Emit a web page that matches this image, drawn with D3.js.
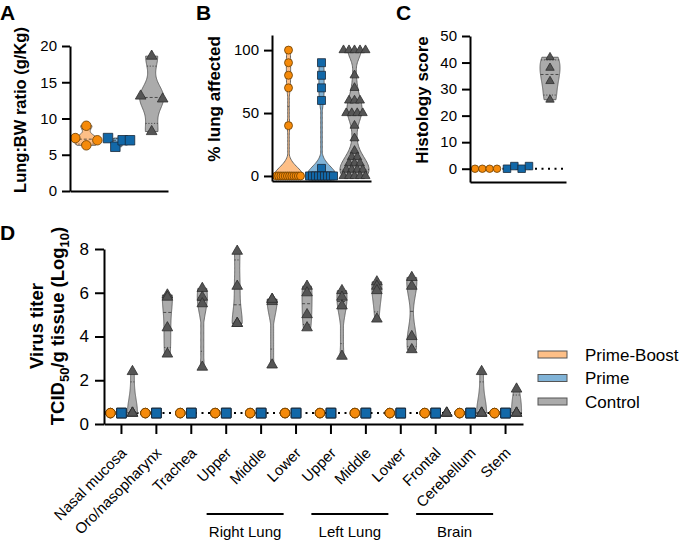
<!DOCTYPE html>
<html><head><meta charset="utf-8">
<script src="https://cdn.jsdelivr.net/npm/d3@7"></script>
<style>body{margin:0;background:#fff}</style>
</head><body><svg id="chart" width="685" height="543"></svg>
<script>
// ---------------- DATA ----------------
const groups = ["Prime-Boost", "Prime", "Control"];

// Panel A: Lung:BW ratio (g/Kg)
const lungBW_primeBoost = [9.0, 7.3, 6.3, 7.0];
const lungBW_prime = [7.3, 6.1, 7.0, 7.0];
const lungBW_control = [18.6, 13.1, 12.7, 8.2];
const ticksA = [0, 5, 10, 15, 20];

// Panel B: % lung affected
const lungAffected_primeBoost = [100, 90, 80, 70, 40, 0, 0, 0, 0, 0, 0, 0, 0, 0, 0, 0, 0];
const lungAffected_prime = [90, 80, 70, 60, 6, 0, 0, 0, 0, 0, 0, 0, 0, 0];
const lungAffected_control = [100, 100, 100, 100, 100, 80, 70, 60, 60, 60, 50, 50, 50, 50, 40, 30, 20,
  15, 15, 10, 10, 10, 5, 5, 5, 5, 0, 0, 0, 0, 0];
const ticksB = [0, 50, 100];

// Panel C: Histology score
const histology_primeBoost = [0, 0, 0, 0];
const histology_prime = [0, 1, 0, 1];
const histology_control = [42, 38, 33, 26];
const ticksC = [0, 10, 20, 30, 40, 50];

// Panel D: Virus titer, TCID50/g tissue (Log10)
const tissues = ["Nasal mucosa", "Oro/nasopharynx", "Trachea", "Upper", "Middle", "Lower",
  "Upper", "Middle", "Lower", "Frontal", "Cerebellum", "Stem"];
const tissueRegions = ["Right Lung", "Left Lung", "Brain"];
const tissueRegionFirst = [3, 6, 9];
const tissueRegionLast = [5, 8, 11];
const titer_primeBoost = [
  [0.5, 0.5, 0.5, 0.5], [0.5, 0.5, 0.5, 0.5], [0.5, 0.5, 0.5, 0.5], [0.5, 0.5, 0.5, 0.5],
  [0.5, 0.5, 0.5, 0.5], [0.5, 0.5, 0.5, 0.5], [0.5, 0.5, 0.5, 0.5], [0.5, 0.5, 0.5, 0.5],
  [0.5, 0.5, 0.5, 0.5], [0.5, 0.5, 0.5, 0.5], [0.5, 0.5, 0.5, 0.5], [0.5, 0.5, 0.5, 0.5]];
const titer_prime = [
  [0.5, 0.5, 0.5, 0.5], [0.5, 0.5, 0.5, 0.5], [0.5, 0.5, 0.5, 0.5], [0.5, 0.5, 0.5, 0.5],
  [0.5, 0.5, 0.5, 0.5], [0.5, 0.5, 0.5, 0.5], [0.5, 0.5, 0.5, 0.5], [0.5, 0.5, 0.5, 0.5],
  [0.5, 0.5, 0.5, 0.5], [0.5, 0.5, 0.5, 0.5], [0.5, 0.5, 0.5, 0.5], [0.5, 0.5, 0.5, 0.5]];
const titer_control = [
  [2.4, 0.5, 0.5, 0.5],
  [5.9, 5.8, 4.4, 3.2],
  [6.2, 5.8, 5.5, 2.6],
  [7.9, 6.3, 4.6, 4.6],
  [5.7, 5.6, 5.7, 2.7],
  [6.3, 6.0, 5.0, 4.4],
  [6.1, 5.8, 5.4, 3.1],
  [6.5, 6.3, 6.1, 4.8],
  [6.7, 6.3, 4.0, 3.4],
  [0.5, 0.5, 0.5, 0.5],
  [2.4, 0.5, 0.5, 0.5],
  [1.6, 0.5, 0.5, 0.5]];
const detectionLimit = 0.5;
const ticksD = [0, 2, 4, 6, 8];

// ---------------- STYLE ----------------
const FONT = '"Liberation Sans", Arial, Helvetica, sans-serif';
const violinFill = {"Prime-Boost": "#FDBF87", "Prime": "#80B3D7", "Control": "#ABABAB"};
const markerFill = {"Prime-Boost": "#F58A0A", "Prime": "#1268A8", "Control": "#555555"};
const markerStroke = {"Prime-Boost": "#6b3d00", "Prime": "#1a2a3a", "Control": "#2e2e2e"};
const markerType = {"Prime-Boost": d3.symbolCircle, "Prime": d3.symbolSquare, "Control": d3.symbolTriangle};

const svg = d3.select("#chart").attr("font-family", FONT);

function styleAxis(g, fs) {
  g.select(".domain").attr("stroke", "#000").attr("stroke-width", 2);
  g.selectAll(".tick line").attr("stroke", "#000").attr("stroke-width", 2);
  g.selectAll(".tick text").attr("font-size", fs).attr("font-family", FONT).attr("fill", "#000");
}

function markerArea(group, size) {
  if (group === "Prime-Boost") return Math.PI * (size / 2) ** 2;
  if (group === "Prime") return size * size;
  return Math.sqrt(3) / 4 * (size * 1.12) ** 2;
}

// Prism-style quantile ((n+1)p)
function quant(sorted, p) {
  const n = sorted.length;
  let pos = (n + 1) * p;
  if (pos <= 1) return sorted[0];
  if (pos >= n) return sorted[n - 1];
  const i = Math.floor(pos), f = pos - i;
  return sorted[i - 1] + f * (sorted[i] - sorted[i - 1]);
}

function drawViolin(g, values, cx, y, o) {
  const lo = d3.min(values), hi = d3.max(values);
  if (hi - lo < o.minRange) return;
  const N = 90;
  const kde = v => d3.sum(values, x => Math.exp(-0.5 * ((v - x) / o.bw) ** 2));
  const grid = d3.range(N + 1).map(i => lo + (hi - lo) * i / N);
  const dens = grid.map(kde);
  const m = d3.max(dens);
  const wAt = v => Math.max(o.minW, kde(v) / m * o.halfW);
  const pts = grid.map(v => ({v, w: wAt(v)}));
  const area = d3.area().y(d => y(d.v)).x0(d => cx - d.w).x1(d => cx + d.w).curve(d3.curveMonotoneY);
  g.append("path").attr("d", area(pts)).attr("fill", o.fill)
    .attr("stroke", "#5a5a5a").attr("stroke-width", 0.9);
  const sorted = values.slice().sort(d3.ascending);
  [[0.25, "1.2,1.6"], [0.5, "3,2"], [0.75, "1.2,1.6"]].forEach(([p, dash]) => {
    const v = quant(sorted, p);
    const w = wAt(v);
    g.append("line").attr("x1", cx - w).attr("x2", cx + w)
      .attr("y1", y(v)).attr("y2", y(v))
      .attr("stroke", "#333").attr("stroke-width", 0.8).attr("stroke-dasharray", dash);
  });
}

// horizontal spreading of points with similar values
function spreadOffsets(values, y, thr, step, maxHalf) {
  const idx = values.map((v, i) => i).sort((a, b) => y(values[a]) - y(values[b]) || a - b);
  const off = new Array(values.length).fill(0);
  let i = 0;
  while (i < idx.length) {
    const start = y(values[idx[i]]);
    let j = i;
    while (j + 1 < idx.length && y(values[idx[j + 1]]) - start < thr) j++;
    const members = idx.slice(i, j + 1).sort((a, b) => a - b);
    const n = members.length;
    if (n > 1) {
      const h = Math.min(maxHalf, (n - 1) * step / 2);
      members.forEach((m, k) => { off[m] = -h + 2 * h * k / (n - 1); });
    }
    i = j + 1;
  }
  return off;
}

function drawPoints(g, values, cx, y, group, size, offs) {
  const sym = d3.symbol().type(markerType[group]).size(markerArea(group, size));
  g.selectAll(null).data(values).join("path")
    .attr("d", sym)
    .attr("transform", (d, i) => `translate(${cx + (offs ? offs[i] : 0)},${y(d)})`)
    .attr("fill", markerFill[group]).attr("stroke", markerStroke[group]).attr("stroke-width", 0.8);
}

function panelLetter(x, y, t) {
  svg.append("text").attr("x", x).attr("y", y).attr("font-size", 21).attr("font-weight", "bold").text(t);
}
function yTitle(x, y, t, fs) {
  svg.append("text").attr("transform", `translate(${x},${y}) rotate(-90)`)
    .attr("text-anchor", "middle").attr("font-size", fs).attr("font-weight", "bold").text(t);
}

// ---------------- PANEL A ----------------
{
  const x = d3.scaleBand().domain(groups).range([70, 168]);
  const y = d3.scaleLinear().domain([0, 20]).range([191, 46]);
  const data = {"Prime-Boost": lungBW_primeBoost, "Prime": lungBW_prime, "Control": lungBW_control};
  const vopt = {"Prime-Boost": {halfW: 13, bw: 0.55}, "Prime": {halfW: 6, bw: 0.45}, "Control": {halfW: 12, bw: 1.7}};
  const g = svg.append("g");
  groups.forEach(gr => {
    const cx = x(gr) + x.bandwidth() / 2;
    drawViolin(g, data[gr], cx, y, {halfW: vopt[gr].halfW, bw: vopt[gr].bw, minW: 2, minRange: 0.5, fill: violinFill[gr]});
  });
  groups.forEach(gr => {
    const cx = x(gr) + x.bandwidth() / 2;
    drawPoints(g, data[gr], cx, y, gr, 9.5, spreadOffsets(data[gr], y, 10, 22, 11));
  });
  const ya = svg.append("g").attr("transform", "translate(70,0)")
    .call(d3.axisLeft(y).tickValues(ticksA).tickSize(8).tickSizeOuter(0).tickPadding(5));
  styleAxis(ya, 15);
  const xa = svg.append("g").attr("transform", "translate(0,191)")
    .call(d3.axisBottom(x).tickSize(0).tickSizeOuter(0).tickFormat(""));
  styleAxis(xa, 15);
  panelLetter(0, 20, "A");
  yTitle(26, 110, "Lung:BW ratio (g/Kg)", 16.5);
}

// ---------------- PANEL B ----------------
{
  const x = d3.scaleBand().domain(groups).range([272, 371]);
  const y = d3.scaleLinear().domain([-4, 112]).range([181, 35]);
  const data = {"Prime-Boost": lungAffected_primeBoost, "Prime": lungAffected_prime, "Control": lungAffected_control};
  const g = svg.append("g");
  groups.forEach(gr => {
    const cx = x(gr) + x.bandwidth() / 2;
    drawViolin(g, data[gr], cx, y, {halfW: 14.5, bw: 7, minW: 0.8, minRange: 1, fill: violinFill[gr]});
  });
  groups.forEach(gr => {
    const cx = x(gr) + x.bandwidth() / 2;
    drawPoints(g, data[gr], cx, y, gr, 8, spreadOffsets(data[gr], y, 3, 5.5, 12));
  });
  const ya = svg.append("g").attr("transform", "translate(272,0)")
    .call(d3.axisLeft(y).tickValues(ticksB).tickSize(8).tickSizeOuter(0).tickPadding(5));
  styleAxis(ya, 15);
  const xa = svg.append("g").attr("transform", "translate(0,181)")
    .call(d3.axisBottom(x).tickSize(0).tickSizeOuter(0).tickFormat(""));
  styleAxis(xa, 15);
  panelLetter(196, 20, "B");
  yTitle(220, 99, "% lung affected", 17);
}

// ---------------- PANEL C ----------------
{
  const x = d3.scaleBand().domain(groups).range([470, 566]);
  const y = d3.scaleLinear().domain([-5, 50]).range([182, 36]);
  const data = {"Prime-Boost": histology_primeBoost, "Prime": histology_prime, "Control": histology_control};
  const g = svg.append("g");
  g.append("line").attr("x1", 470).attr("x2", 566).attr("y1", y(0)).attr("y2", y(0))
    .attr("stroke", "#000").attr("stroke-width", 2).attr("stroke-dasharray", "2,4.5");
  groups.forEach(gr => {
    const cx = x(gr) + x.bandwidth() / 2;
    drawViolin(g, data[gr], cx, y, {halfW: 10, bw: 4, minW: 2, minRange: 3, fill: violinFill[gr]});
  });
  groups.forEach(gr => {
    const cx = x(gr) + x.bandwidth() / 2;
    drawPoints(g, data[gr], cx, y, gr, 7.5, spreadOffsets(data[gr], y, 9, 22, 11));
  });
  const ya = svg.append("g").attr("transform", "translate(470,0)")
    .call(d3.axisLeft(y).tickValues(ticksC).tickSize(8).tickSizeOuter(0).tickPadding(5));
  styleAxis(ya, 15);
  const xa = svg.append("g").attr("transform", "translate(0,182)")
    .call(d3.axisBottom(x).tickSize(0).tickSizeOuter(0).tickFormat(""));
  styleAxis(xa, 15);
  panelLetter(396, 20, "C");
  yTitle(428, 100, "Histology score", 17);
}

// ---------------- PANEL D ----------------
{
  const x = d3.scaleBand().domain(d3.range(tissues.length)).range([104, 523]);
  const sub = d3.scaleBand().domain(groups).range([-16.5, 16.5]);
  const y = d3.scaleLinear().domain([0, 8]).range([424, 249]);
  const data = {"Prime-Boost": titer_primeBoost, "Prime": titer_prime, "Control": titer_control};
  const g = svg.append("g");
  g.append("line").attr("x1", 104).attr("x2", 523).attr("y1", y(detectionLimit)).attr("y2", y(detectionLimit))
    .attr("stroke", "#000").attr("stroke-width", 2).attr("stroke-dasharray", "2,4.5");
  tissues.forEach((t, i) => {
    groups.forEach(gr => {
      const cx = x(i) + x.bandwidth() / 2 + sub(gr) + sub.bandwidth() / 2;
      drawViolin(g, data[gr][i], cx, y, {halfW: 5, bw: 0.7, minW: 1.5, minRange: 0.3, fill: violinFill[gr]});
    });
  });
  tissues.forEach((t, i) => {
    groups.forEach(gr => {
      const cx = x(i) + x.bandwidth() / 2 + sub(gr) + sub.bandwidth() / 2;
      drawPoints(g, data[gr][i], cx, y, gr, 9.5, null);
    });
  });
  const ya = svg.append("g").attr("transform", "translate(104,0)")
    .call(d3.axisLeft(y).tickValues(ticksD).tickSize(9).tickSizeOuter(0).tickPadding(6));
  styleAxis(ya, 17);
  const xa = svg.append("g").attr("transform", "translate(0,424)")
    .call(d3.axisBottom(x).tickSize(10).tickSizeOuter(0).tickFormat(i => tissues[i]));
  styleAxis(xa, 15);
  xa.selectAll(".tick text").attr("x", 0).attr("y", 0).attr("dy", 0)
    .attr("text-anchor", "end").attr("transform", "translate(6,30) rotate(-45)");

  tissueRegions.forEach((r, k) => {
    const a = x(tissueRegionFirst[k]) + x.bandwidth() / 2;
    const b = x(tissueRegionLast[k]) + x.bandwidth() / 2;
    const mid = (a + b) / 2 - 16;
    svg.append("line").attr("x1", mid - 38.5).attr("x2", mid + 38.5).attr("y1", 514).attr("y2", 514)
      .attr("stroke", "#000").attr("stroke-width", 2);
    svg.append("text").attr("x", mid).attr("y", 537).attr("text-anchor", "middle")
      .attr("font-size", 15).text(r);
  });

  panelLetter(0, 240, "D");
  yTitle(43, 326, "Virus titer", 18.5);
  const t2 = svg.append("text").attr("transform", "translate(64,326) rotate(-90)")
    .attr("text-anchor", "middle").attr("font-size", 18.5).attr("font-weight", "bold");
  t2.append("tspan").text("TCID");
  t2.append("tspan").attr("dy", 5).attr("font-size", 13).text("50");
  t2.append("tspan").attr("dy", -5).text("/g tissue (Log");
  t2.append("tspan").attr("dy", 5).attr("font-size", 13).text("10");
  t2.append("tspan").attr("dy", -5).text(")");

  // legend
  groups.forEach((gr, k) => {
    const cy = 354.5 + k * 23.5;
    svg.append("rect").attr("x", 538).attr("y", cy - 3.5).attr("width", 29).attr("height", 7)
      .attr("fill", violinFill[gr]).attr("stroke", "#555").attr("stroke-width", 1);
    svg.append("text").attr("x", 585).attr("y", cy + 6).attr("font-size", 17).text(gr);
  });
}
</script>
</body></html>
